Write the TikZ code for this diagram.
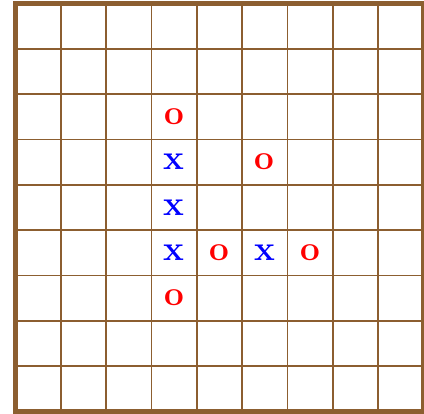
\documentclass[tikz,border=0pt]{standalone}
\usepackage{tikz}
\usetikzlibrary{positioning}
\definecolor{boardbrown}{RGB}{140,94,48}
\tikzset{>=latex}
\tikzset{
  mark x/.style={font=\fontsize{22}{26}\selectfont\bfseries, text=blue},
  mark o/.style={font=\fontsize{22}{26}\selectfont\bfseries, text=red},
}

\begin{document}
\begin{tikzpicture}
  \useasboundingbox (-0.342,-0.055) rectangle (9.012,9.077);
  \draw[boardbrown, line width=0.9pt] (0,0) grid (9,9);
  \draw[boardbrown, line width=3.3pt] (0,0) rectangle (9,9);
  % crosses
  \foreach \c/\r [count=\i] in {3/6, 3/5, 3/4, 5/4}
    \node[mark x] (x\i) at (\c+0.5,\r-0.5) {x};
  % noughts
  \foreach \c/\r [count=\i] in {3/7, 5/6, 4/4, 6/4, 3/3}
    \node[mark o] (o\i) at (\c+0.5,\r-0.5) {o};
\end{tikzpicture}
\end{document}
